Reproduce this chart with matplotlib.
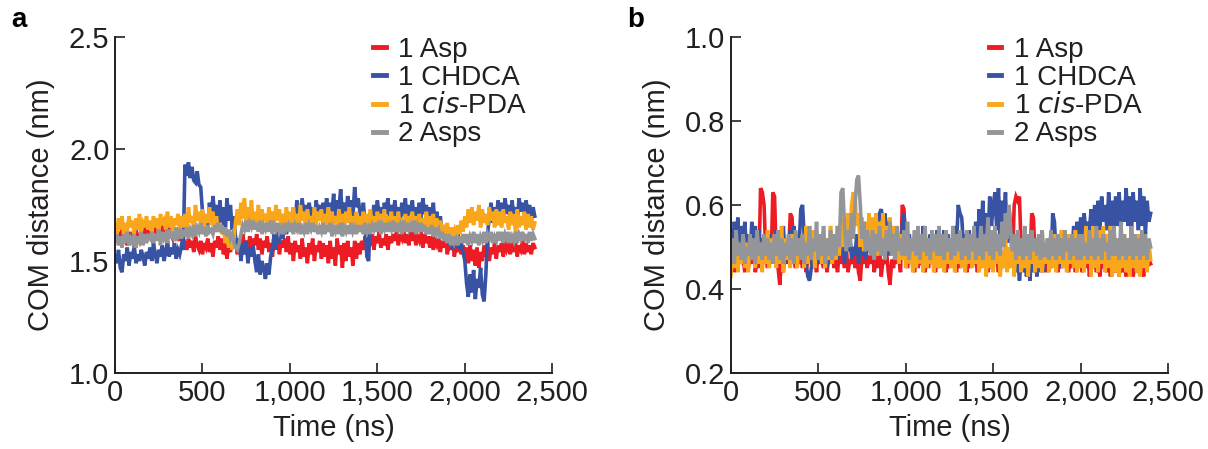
import numpy as np
import matplotlib
matplotlib.use('Agg')
import matplotlib.pyplot as plt
from matplotlib.ticker import FuncFormatter

plt.rcParams['font.family'] = ['Liberation Sans', 'DejaVu Sans']

# time axis, one sample every 10 ns
time = np.arange(0, 2410, 10)

labels = ['1 Asp', '1 CHDCA', '1 $\\it{cis}$-PDA', '2 Asps']
colors = ['#ed1c24', '#3953a4', '#f9a61a', '#939598']

# panel a values (nm), one row = 200 ns
asp_a = [
    1.60, 1.63, 1.58, 1.62, 1.64, 1.59, 1.61, 1.57, 1.63, 1.60, 1.62, 1.58, 1.64, 1.61, 1.59, 1.63, 1.60, 1.65, 1.61, 1.63,
    1.62, 1.60, 1.64, 1.66, 1.62, 1.67, 1.63, 1.68, 1.64, 1.66, 1.61, 1.65, 1.62, 1.60, 1.64, 1.61, 1.63, 1.59, 1.62, 1.60,
    1.58, 1.55, 1.60, 1.56, 1.59, 1.54, 1.61, 1.57, 1.55, 1.59, 1.53, 1.58, 1.56, 1.60, 1.54, 1.58, 1.52, 1.59, 1.56, 1.61,
    1.55, 1.60, 1.53, 1.58, 1.51, 1.57, 1.54, 1.61, 1.56, 1.59, 1.53, 1.60, 1.55, 1.62, 1.57, 1.59, 1.54, 1.61, 1.56, 1.60,
    1.57, 1.62, 1.55, 1.60, 1.53, 1.59, 1.56, 1.61, 1.54, 1.58, 1.52, 1.60, 1.55, 1.61, 1.53, 1.59, 1.56, 1.60, 1.54, 1.61,
    1.53, 1.58, 1.50, 1.59, 1.54, 1.57, 1.51, 1.60, 1.52, 1.56, 1.49, 1.58, 1.53, 1.60, 1.50, 1.57, 1.54, 1.59, 1.51, 1.58,
    1.52, 1.57, 1.49, 1.59, 1.51, 1.56, 1.48, 1.60, 1.53, 1.57, 1.47, 1.58, 1.50, 1.59, 1.52, 1.56, 1.48, 1.59, 1.51, 1.58,
    1.53, 1.59, 1.55, 1.61, 1.54, 1.60, 1.57, 1.62, 1.55, 1.61, 1.58, 1.63, 1.56, 1.60, 1.57, 1.62, 1.55, 1.61, 1.58, 1.62,
    1.59, 1.63, 1.57, 1.62, 1.60, 1.64, 1.58, 1.62, 1.57, 1.63, 1.59, 1.64, 1.57, 1.61, 1.59, 1.63, 1.56, 1.62, 1.58, 1.61,
    1.56, 1.61, 1.55, 1.59, 1.57, 1.60, 1.54, 1.59, 1.56, 1.60, 1.53, 1.58, 1.55, 1.59, 1.52, 1.57, 1.54, 1.58, 1.53, 1.57,
    1.51, 1.56, 1.49, 1.57, 1.50, 1.55, 1.48, 1.56, 1.47, 1.54, 1.50, 1.57, 1.52, 1.58, 1.50, 1.56, 1.53, 1.58, 1.51, 1.57,
    1.54, 1.58, 1.52, 1.59, 1.55, 1.57, 1.53, 1.59, 1.54, 1.58, 1.52, 1.57, 1.55, 1.59, 1.53, 1.58, 1.54, 1.57, 1.53, 1.58,
    1.56]
chdca_a = [
    1.52, 1.49, 1.55, 1.47, 1.45, 1.53, 1.50, 1.56, 1.48, 1.54, 1.51, 1.57, 1.49, 1.53, 1.50, 1.55, 1.52, 1.48, 1.54, 1.51,
    1.56, 1.50, 1.58, 1.53, 1.49, 1.55, 1.52, 1.57, 1.50, 1.54, 1.59, 1.52, 1.56, 1.53, 1.58, 1.51, 1.55, 1.53, 1.57, 1.55,
    1.93, 1.88, 1.94, 1.87, 1.92, 1.86, 1.85, 1.90, 1.84, 1.83, 1.72, 1.64, 1.70, 1.62, 1.76, 1.68, 1.79, 1.70, 1.75, 1.67,
    1.77, 1.66, 1.74, 1.62, 1.78, 1.68, 1.75, 1.64, 1.70, 1.60, 1.55, 1.60, 1.50, 1.58, 1.53, 1.59, 1.49, 1.56, 1.52, 1.57,
    1.50, 1.45, 1.53, 1.44, 1.50, 1.47, 1.42, 1.49, 1.44, 1.52, 1.56, 1.62, 1.55, 1.64, 1.58, 1.66, 1.60, 1.68, 1.62, 1.66,
    1.70, 1.65, 1.74, 1.68, 1.77, 1.66, 1.72, 1.78, 1.69, 1.75, 1.67, 1.76, 1.70, 1.74, 1.66, 1.77, 1.71, 1.75, 1.68, 1.76,
    1.70, 1.78, 1.68, 1.76, 1.72, 1.80, 1.69, 1.77, 1.73, 1.82, 1.70, 1.76, 1.68, 1.79, 1.72, 1.77, 1.70, 1.83, 1.74, 1.78,
    1.72, 1.68, 1.76, 1.66, 1.52, 1.50, 1.70, 1.67, 1.75, 1.69, 1.77, 1.70, 1.74, 1.68, 1.76, 1.71, 1.78, 1.69, 1.75, 1.70,
    1.77, 1.69, 1.74, 1.68, 1.76, 1.70, 1.78, 1.67, 1.75, 1.71, 1.77, 1.68, 1.74, 1.70, 1.76, 1.69, 1.78, 1.71, 1.75, 1.68,
    1.74, 1.67, 1.76, 1.65, 1.72, 1.64, 1.70, 1.62, 1.66, 1.60, 1.63, 1.57, 1.61, 1.55, 1.60, 1.56, 1.62, 1.55, 1.58, 1.54,
    1.50, 1.40, 1.34, 1.44, 1.36, 1.46, 1.33, 1.42, 1.38, 1.47, 1.35, 1.32, 1.44, 1.62, 1.70, 1.76, 1.67, 1.74, 1.69, 1.77,
    1.70, 1.76, 1.68, 1.78, 1.71, 1.75, 1.67, 1.77, 1.70, 1.74, 1.68, 1.78, 1.72, 1.76, 1.69, 1.77, 1.71, 1.75, 1.68, 1.74,
    1.70]
pda_a = [
    1.66, 1.62, 1.69, 1.64, 1.70, 1.61, 1.67, 1.63, 1.70, 1.65, 1.68, 1.62, 1.69, 1.64, 1.71, 1.63, 1.67, 1.65, 1.70, 1.64,
    1.68, 1.63, 1.70, 1.65, 1.69, 1.62, 1.71, 1.66, 1.68, 1.64, 1.72, 1.65, 1.70, 1.63, 1.69, 1.66, 1.71, 1.64, 1.70, 1.65,
    1.71, 1.65, 1.74, 1.67, 1.70, 1.64, 1.75, 1.68, 1.72, 1.66, 1.73, 1.65, 1.71, 1.67, 1.74, 1.66, 1.72, 1.64, 1.70, 1.63,
    1.67, 1.62, 1.65, 1.58, 1.61, 1.56, 1.63, 1.55, 1.60, 1.68, 1.73, 1.66, 1.76, 1.69, 1.78, 1.67, 1.74, 1.68, 1.77, 1.66,
    1.72, 1.67, 1.75, 1.66, 1.73, 1.68, 1.71, 1.65, 1.74, 1.67, 1.72, 1.66, 1.75, 1.68, 1.73, 1.65, 1.71, 1.67, 1.74, 1.66,
    1.72, 1.65, 1.74, 1.67, 1.71, 1.66, 1.75, 1.68, 1.72, 1.64, 1.73, 1.67, 1.70, 1.65, 1.74, 1.66, 1.72, 1.68, 1.73, 1.65,
    1.71, 1.66, 1.74, 1.65, 1.72, 1.67, 1.70, 1.64, 1.73, 1.66, 1.71, 1.63, 1.72, 1.67, 1.74, 1.65, 1.70, 1.66, 1.72, 1.64,
    1.70, 1.65, 1.72, 1.64, 1.71, 1.66, 1.73, 1.65, 1.70, 1.63, 1.72, 1.66, 1.71, 1.64, 1.73, 1.65, 1.70, 1.66, 1.72, 1.64,
    1.70, 1.64, 1.72, 1.65, 1.69, 1.63, 1.71, 1.66, 1.70, 1.64, 1.72, 1.65, 1.70, 1.63, 1.71, 1.65, 1.69, 1.64, 1.72, 1.65,
    1.70, 1.64, 1.71, 1.63, 1.69, 1.62, 1.68, 1.64, 1.66, 1.61, 1.67, 1.60, 1.65, 1.62, 1.64, 1.60, 1.66, 1.62, 1.68, 1.63,
    1.70, 1.65, 1.73, 1.67, 1.74, 1.66, 1.72, 1.68, 1.75, 1.65, 1.73, 1.67, 1.71, 1.66, 1.74, 1.68, 1.72, 1.65, 1.73, 1.66,
    1.72, 1.65, 1.73, 1.67, 1.70, 1.64, 1.72, 1.66, 1.71, 1.63, 1.73, 1.65, 1.70, 1.66, 1.72, 1.64, 1.71, 1.65, 1.70, 1.64,
    1.67]
asps_a = [
    1.59, 1.62, 1.57, 1.61, 1.56, 1.62, 1.58, 1.63, 1.57, 1.60, 1.58, 1.62, 1.56, 1.61, 1.59, 1.63, 1.57, 1.62, 1.58, 1.61,
    1.60, 1.63, 1.58, 1.62, 1.59, 1.64, 1.57, 1.63, 1.60, 1.62, 1.58, 1.64, 1.60, 1.63, 1.59, 1.65, 1.61, 1.63, 1.60, 1.64,
    1.61, 1.65, 1.60, 1.64, 1.62, 1.66, 1.61, 1.65, 1.63, 1.67, 1.62, 1.65, 1.61, 1.66, 1.63, 1.64, 1.62, 1.66, 1.63, 1.67,
    1.63, 1.66, 1.62, 1.65, 1.61, 1.64, 1.60, 1.62, 1.58, 1.56, 1.55, 1.58, 1.62, 1.66, 1.64, 1.68, 1.63, 1.67, 1.65, 1.68,
    1.64, 1.67, 1.63, 1.68, 1.62, 1.66, 1.64, 1.67, 1.63, 1.68, 1.62, 1.66, 1.64, 1.67, 1.63, 1.65, 1.62, 1.67, 1.64, 1.66,
    1.63, 1.67, 1.62, 1.66, 1.64, 1.67, 1.62, 1.65, 1.63, 1.67, 1.62, 1.66, 1.64, 1.67, 1.63, 1.66, 1.62, 1.65, 1.63, 1.67,
    1.62, 1.66, 1.63, 1.67, 1.61, 1.65, 1.63, 1.66, 1.62, 1.67, 1.61, 1.65, 1.63, 1.66, 1.62, 1.67, 1.63, 1.65, 1.62, 1.66,
    1.63, 1.66, 1.62, 1.67, 1.63, 1.65, 1.62, 1.66, 1.64, 1.67, 1.63, 1.68, 1.62, 1.66, 1.64, 1.67, 1.63, 1.66, 1.64, 1.68,
    1.63, 1.67, 1.64, 1.66, 1.62, 1.68, 1.63, 1.67, 1.64, 1.66, 1.63, 1.68, 1.62, 1.66, 1.64, 1.67, 1.63, 1.66, 1.62, 1.65,
    1.62, 1.66, 1.61, 1.65, 1.62, 1.64, 1.60, 1.63, 1.59, 1.62, 1.58, 1.62, 1.57, 1.61, 1.58, 1.60, 1.57, 1.61, 1.58, 1.62,
    1.58, 1.62, 1.57, 1.61, 1.59, 1.63, 1.58, 1.62, 1.57, 1.61, 1.59, 1.63, 1.58, 1.62, 1.60, 1.63, 1.58, 1.61, 1.59, 1.63,
    1.59, 1.63, 1.58, 1.62, 1.60, 1.63, 1.58, 1.61, 1.59, 1.63, 1.58, 1.62, 1.60, 1.63, 1.59, 1.62, 1.58, 1.63, 1.59, 1.62,
    1.60]

# panel b values (nm)
asp_b = [
    0.46, 0.49, 0.44, 0.48, 0.45, 0.50, 0.46, 0.47, 0.44, 0.49, 0.45, 0.48, 0.46, 0.50, 0.44, 0.47, 0.45, 0.64, 0.63, 0.60,
    0.48, 0.45, 0.49, 0.46, 0.63, 0.62, 0.47, 0.45, 0.41, 0.48, 0.44, 0.49, 0.46, 0.48, 0.58, 0.57, 0.47, 0.45, 0.49, 0.46,
    0.48, 0.45, 0.50, 0.44, 0.47, 0.46, 0.49, 0.45, 0.48, 0.44, 0.50, 0.46, 0.47, 0.45, 0.49, 0.44, 0.48, 0.46, 0.50, 0.45,
    0.47, 0.44, 0.49, 0.46, 0.48, 0.45, 0.50, 0.44, 0.47, 0.46, 0.49, 0.45, 0.48, 0.44, 0.42, 0.48, 0.46, 0.49, 0.45, 0.48,
    0.46, 0.49, 0.44, 0.48, 0.45, 0.50, 0.43, 0.47, 0.46, 0.49, 0.44, 0.41, 0.47, 0.45, 0.49, 0.46, 0.48, 0.44, 0.60, 0.59,
    0.47, 0.45, 0.49, 0.46, 0.48, 0.44, 0.50, 0.45, 0.47, 0.46, 0.49, 0.44, 0.48, 0.45, 0.50, 0.46, 0.47, 0.44, 0.49, 0.45,
    0.48, 0.46, 0.49, 0.44, 0.47, 0.45, 0.50, 0.46, 0.48, 0.44, 0.49, 0.45, 0.47, 0.46, 0.50, 0.44, 0.48, 0.45, 0.49, 0.46,
    0.47, 0.44, 0.49, 0.45, 0.48, 0.46, 0.50, 0.44, 0.47, 0.45, 0.49, 0.46, 0.48, 0.44, 0.50, 0.45, 0.47, 0.46, 0.49, 0.45,
    0.48, 0.46, 0.60, 0.62, 0.61, 0.62, 0.49, 0.45, 0.47, 0.44, 0.48, 0.46, 0.58, 0.57, 0.47, 0.45, 0.49, 0.44, 0.48, 0.46,
    0.47, 0.44, 0.49, 0.45, 0.48, 0.46, 0.50, 0.44, 0.47, 0.45, 0.49, 0.46, 0.48, 0.44, 0.47, 0.45, 0.49, 0.44, 0.48, 0.46,
    0.46, 0.44, 0.48, 0.45, 0.49, 0.43, 0.47, 0.45, 0.48, 0.44, 0.46, 0.43, 0.48, 0.45, 0.47, 0.44, 0.49, 0.43, 0.46, 0.45,
    0.44, 0.47, 0.43, 0.48, 0.44, 0.46, 0.43, 0.47, 0.44, 0.48, 0.43, 0.46, 0.45, 0.47, 0.44, 0.46, 0.43, 0.48, 0.45, 0.47,
    0.46]
chdca_b = [
    0.54, 0.49, 0.56, 0.50, 0.57, 0.48, 0.55, 0.51, 0.56, 0.49, 0.53, 0.48, 0.56, 0.50, 0.55, 0.47, 0.54, 0.49, 0.52, 0.48,
    0.51, 0.47, 0.53, 0.48, 0.52, 0.46, 0.54, 0.49, 0.53, 0.47, 0.55, 0.48, 0.52, 0.46, 0.54, 0.49, 0.55, 0.48, 0.53, 0.50,
    0.59, 0.60, 0.52, 0.46, 0.43, 0.42, 0.45, 0.48, 0.52, 0.47, 0.51, 0.46, 0.53, 0.48, 0.50, 0.45, 0.52, 0.47, 0.51, 0.48,
    0.50, 0.47, 0.53, 0.48, 0.51, 0.46, 0.52, 0.49, 0.54, 0.47, 0.50, 0.48, 0.53, 0.46, 0.51, 0.48, 0.52, 0.47, 0.50, 0.49,
    0.53, 0.48, 0.55, 0.50, 0.52, 0.58, 0.59, 0.56, 0.58, 0.55, 0.52, 0.48, 0.54, 0.49, 0.51, 0.47, 0.53, 0.50, 0.55, 0.58,
    0.52, 0.47, 0.53, 0.49, 0.51, 0.46, 0.54, 0.48, 0.52, 0.47, 0.55, 0.49, 0.51, 0.46, 0.53, 0.48, 0.52, 0.47, 0.54, 0.49,
    0.52, 0.48, 0.54, 0.47, 0.53, 0.49, 0.51, 0.48, 0.55, 0.50, 0.60, 0.58, 0.57, 0.50, 0.53, 0.48, 0.54, 0.49, 0.52, 0.50,
    0.56, 0.50, 0.59, 0.52, 0.61, 0.53, 0.58, 0.51, 0.62, 0.55, 0.60, 0.63, 0.54, 0.64, 0.52, 0.61, 0.55, 0.63, 0.51, 0.60,
    0.53, 0.47, 0.50, 0.44, 0.48, 0.42, 0.47, 0.44, 0.50, 0.43, 0.46, 0.42, 0.49, 0.44, 0.47, 0.43, 0.50, 0.45, 0.48, 0.44,
    0.49, 0.46, 0.51, 0.45, 0.58, 0.56, 0.48, 0.46, 0.50, 0.45, 0.49, 0.47, 0.51, 0.46, 0.50, 0.48, 0.55, 0.52, 0.56, 0.51,
    0.57, 0.52, 0.58, 0.53, 0.56, 0.54, 0.59, 0.53, 0.60, 0.55, 0.61, 0.54, 0.62, 0.56, 0.60, 0.54, 0.63, 0.55, 0.61, 0.54,
    0.62, 0.55, 0.63, 0.54, 0.61, 0.56, 0.64, 0.55, 0.62, 0.53, 0.63, 0.56, 0.61, 0.54, 0.64, 0.55, 0.62, 0.53, 0.61, 0.56,
    0.58]
pda_b = [
    0.43, 0.49, 0.45, 0.52, 0.44, 0.50, 0.46, 0.53, 0.45, 0.51, 0.44, 0.52, 0.47, 0.50, 0.45, 0.53, 0.46, 0.51, 0.44, 0.52,
    0.46, 0.54, 0.45, 0.52, 0.47, 0.53, 0.45, 0.51, 0.46, 0.55, 0.44, 0.52, 0.47, 0.50, 0.45, 0.53, 0.46, 0.51, 0.45, 0.52,
    0.47, 0.53, 0.45, 0.55, 0.46, 0.52, 0.48, 0.54, 0.45, 0.53, 0.47, 0.51, 0.46, 0.54, 0.45, 0.52, 0.47, 0.55, 0.46, 0.53,
    0.47, 0.55, 0.48, 0.57, 0.50, 0.55, 0.52, 0.58, 0.51, 0.60, 0.63, 0.62, 0.55, 0.58, 0.50, 0.57, 0.49, 0.56, 0.51, 0.58,
    0.50, 0.57, 0.49, 0.58, 0.48, 0.56, 0.51, 0.58, 0.49, 0.55, 0.50, 0.57, 0.48, 0.55, 0.47, 0.54, 0.46, 0.53, 0.47, 0.52,
    0.45, 0.51, 0.46, 0.50, 0.44, 0.52, 0.45, 0.50, 0.46, 0.51, 0.44, 0.52, 0.45, 0.50, 0.46, 0.51, 0.44, 0.50, 0.45, 0.52,
    0.45, 0.51, 0.44, 0.50, 0.46, 0.52, 0.45, 0.49, 0.44, 0.51, 0.46, 0.50, 0.45, 0.52, 0.44, 0.50, 0.46, 0.51, 0.45, 0.50,
    0.46, 0.50, 0.44, 0.52, 0.45, 0.51, 0.43, 0.50, 0.45, 0.52, 0.44, 0.50, 0.46, 0.51, 0.43, 0.49, 0.45, 0.52, 0.44, 0.50,
    0.45, 0.51, 0.43, 0.50, 0.46, 0.52, 0.44, 0.49, 0.45, 0.51, 0.43, 0.50, 0.46, 0.52, 0.44, 0.50, 0.45, 0.51, 0.44, 0.49,
    0.46, 0.52, 0.44, 0.50, 0.45, 0.53, 0.44, 0.51, 0.46, 0.54, 0.45, 0.51, 0.44, 0.53, 0.46, 0.52, 0.45, 0.54, 0.44, 0.52,
    0.45, 0.53, 0.44, 0.55, 0.46, 0.54, 0.43, 0.55, 0.45, 0.53, 0.44, 0.54, 0.46, 0.55, 0.44, 0.53, 0.45, 0.55, 0.43, 0.52,
    0.44, 0.52, 0.43, 0.51, 0.45, 0.53, 0.44, 0.50, 0.43, 0.52, 0.45, 0.51, 0.44, 0.53, 0.43, 0.50, 0.45, 0.52, 0.44, 0.51,
    0.47]
asps_b = [
    0.47, 0.52, 0.46, 0.54, 0.48, 0.51, 0.47, 0.53, 0.46, 0.50, 0.48, 0.53, 0.47, 0.52, 0.46, 0.54, 0.48, 0.51, 0.47, 0.53,
    0.48, 0.52, 0.47, 0.51, 0.46, 0.53, 0.48, 0.54, 0.47, 0.52, 0.46, 0.51, 0.48, 0.53, 0.47, 0.52, 0.46, 0.54, 0.48, 0.52,
    0.47, 0.53, 0.46, 0.51, 0.48, 0.55, 0.47, 0.52, 0.49, 0.56, 0.47, 0.53, 0.48, 0.55, 0.46, 0.52, 0.48, 0.54, 0.47, 0.53,
    0.48, 0.55, 0.50, 0.63, 0.64, 0.55, 0.49, 0.54, 0.50, 0.58, 0.52, 0.60, 0.66, 0.67, 0.60, 0.52, 0.56, 0.49, 0.54, 0.50,
    0.48, 0.54, 0.47, 0.53, 0.49, 0.55, 0.48, 0.52, 0.47, 0.54, 0.49, 0.56, 0.48, 0.53, 0.47, 0.55, 0.49, 0.52, 0.48, 0.54,
    0.48, 0.56, 0.47, 0.52, 0.49, 0.54, 0.48, 0.55, 0.47, 0.53, 0.49, 0.55, 0.48, 0.52, 0.47, 0.54, 0.49, 0.53, 0.48, 0.55,
    0.48, 0.53, 0.47, 0.54, 0.49, 0.52, 0.47, 0.55, 0.48, 0.53, 0.49, 0.54, 0.47, 0.52, 0.48, 0.54, 0.47, 0.53, 0.49, 0.55,
    0.47, 0.52, 0.48, 0.55, 0.47, 0.53, 0.49, 0.57, 0.48, 0.54, 0.47, 0.55, 0.49, 0.53, 0.48, 0.56, 0.50, 0.58, 0.52, 0.60,
    0.54, 0.49, 0.53, 0.47, 0.54, 0.48, 0.52, 0.47, 0.55, 0.48, 0.53, 0.47, 0.54, 0.49, 0.52, 0.48, 0.53, 0.47, 0.54, 0.48,
    0.48, 0.52, 0.47, 0.54, 0.48, 0.52, 0.47, 0.53, 0.48, 0.52, 0.47, 0.54, 0.49, 0.52, 0.47, 0.53, 0.48, 0.52, 0.47, 0.53,
    0.47, 0.53, 0.48, 0.51, 0.47, 0.54, 0.48, 0.52, 0.47, 0.55, 0.48, 0.52, 0.47, 0.53, 0.49, 0.51, 0.47, 0.54, 0.48, 0.55,
    0.48, 0.52, 0.47, 0.56, 0.48, 0.53, 0.47, 0.52, 0.48, 0.55, 0.47, 0.53, 0.48, 0.52, 0.47, 0.54, 0.48, 0.53, 0.47, 0.52,
    0.50]

panels = [
    ('a', [asp_a, chdca_a, pda_a, asps_a], (1.0, 2.5), [1.0, 1.5, 2.0, 2.5]),
    ('b', [asp_b, chdca_b, pda_b, asps_b], (0.2, 1.0), [0.2, 0.4, 0.6, 0.8, 1.0]),
]

fig = plt.figure(figsize=(12.08, 4.49), dpi=100)
lefts = [0.0952, 0.605]
fs = 21

for (tag, series, ylim, yticks), left in zip(panels, lefts):
    ax = fig.add_axes([left, 0.169, 0.362, 0.749])
    for vals, c, lab in zip(series, colors, labels):
        ax.plot(time, vals, color=c, lw=2.6, label=lab, solid_joinstyle='miter')
    ax.set_xlim(0, 2500)
    ax.set_ylim(*ylim)
    ax.set_xticks([0, 500, 1000, 1500, 2000, 2500])
    ax.set_yticks(yticks)
    ax.xaxis.set_major_formatter(FuncFormatter(lambda v, p: f'{int(v):,}'))
    ax.yaxis.set_major_formatter(FuncFormatter(lambda v, p: f'{v:.1f}'))
    ax.spines['right'].set_visible(False)
    ax.spines['top'].set_visible(False)
    for s in ['left', 'bottom']:
        ax.spines[s].set_linewidth(1.4)
        ax.spines[s].set_color('#231f20')
    ax.tick_params(direction='in', length=7, width=1.2, labelsize=fs,
                   colors='#231f20', pad=4)
    ax.set_xlabel('Time (ns)', fontsize=fs, color='#231f20', labelpad=5)
    ax.set_ylabel('COM distance (nm)', fontsize=fs, color='#231f20', labelpad=10)
    leg = ax.legend(loc='upper left', bbox_to_anchor=(0.59, 1.0), frameon=False,
                    fontsize=20, handlelength=0.45, handletextpad=0.45,
                    labelspacing=0.08, borderpad=0, borderaxespad=0)
    for t in leg.get_texts():
        t.set_color('#231f20')
    for h in leg.get_lines():
        h.set_linewidth(3.5)
    fig.text(left - 0.0855, 0.955, tag, fontsize=20, fontweight='bold',
             ha='left', va='center')

fig.savefig('out.png', dpi=100)
